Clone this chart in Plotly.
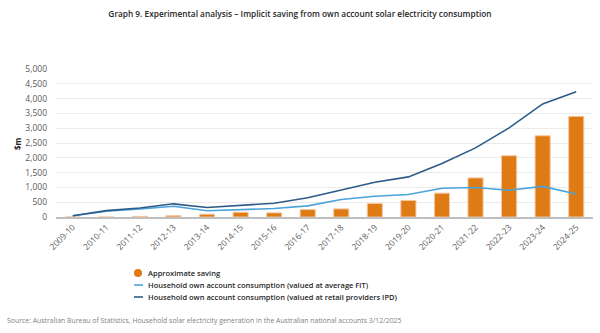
import plotly.graph_objects as go

years = ["2009-10", "2010-11", "2011-12", "2012-13", "2013-14", "2014-15", "2015-16",
         "2016-17", "2017-18", "2018-19", "2019-20", "2020-21", "2021-22", "2022-23",
         "2023-24", "2024-25"]
saving = [0, 0, 22, 45, 95, 160, 140, 250, 275, 455, 560, 805, 1320, 2070, 2745, 3400]
fit_value = [45, 195, 270, 365, 210, 240, 285, 375, 590, 700, 760, 970, 995, 905, 1035, 780]
ipd_value = [45, 215, 305, 445, 320, 400, 465, 650, 925, 1175, 1355, 1805, 2335, 3010, 3820, 4230]
y_ticks = [0, 500, 1000, 1500, 2000, 2500, 3000, 3500, 4000, 4500, 5000]

names = ["Approximate saving",
         "Household own account consumption (valued at average FiT)",
         "Household own account consumption (valued at retail providers IPD)"]
ORANGE = "#DF7B15"
LIGHT = "#4AA3DB"
DARK = "#2D5B88"
FONT = "Open Sans"

W, H = 600, 333
L, R, T, B = 56, 7, 69, 116
pw, ph = W - L - R, H - T - B


def px_x(p):
    return (p - L) / pw


def px_y(p):
    return (H - B - p) / ph


fig = go.Figure()
fig.add_trace(go.Bar(x=years, y=saving, name=names[0], marker=dict(color=ORANGE, line=dict(color="#F6C7A0", width=1)),
                     showlegend=False))
fig.add_trace(go.Scatter(x=years, y=fit_value, name=names[1], mode="lines",
                         line=dict(color=LIGHT, width=1.6), showlegend=False))
fig.add_trace(go.Scatter(x=years, y=ipd_value, name=names[2], mode="lines",
                         line=dict(color=DARK, width=1.6), showlegend=False))

annotations = []
shapes = []
# legend (drawn manually for compact Excel-style layout)
rows = [273, 285, 297]
for i, (nm, yy) in enumerate(zip(names, rows)):
    annotations.append(dict(text=nm, xref="paper", yref="paper", x=px_x(146), y=px_y(yy),
                            xanchor="left", yanchor="middle", showarrow=False,
                            font=dict(family=FONT, size=7.5, weight=600, color="#262626")))
    if i == 0:
        shapes.append(dict(type="circle", xref="paper", yref="paper", x0=px_x(134), x1=px_x(142),
                           y0=px_y(yy - 4), y1=px_y(yy + 4), fillcolor=ORANGE, line=dict(width=0)))
    else:
        shapes.append(dict(type="line", xref="paper", yref="paper", x0=px_x(134), x1=px_x(143),
                           y0=px_y(yy), y1=px_y(yy), line=dict(color=[LIGHT, DARK][i - 1], width=1.6)))

annotations.append(dict(text="$m", xref="paper", yref="paper", x=px_x(17), y=px_y(143),
                        textangle=-90, showarrow=False, xanchor="center", yanchor="middle",
                        font=dict(family=FONT, size=8, weight=700, color="#262626")))
annotations.append(dict(text="Source: Australian Bureau of Statistics, Household solar electricity generation in the Australian national accounts 3/12/2025",
                        xref="paper", yref="paper", x=px_x(5), y=px_y(320), xanchor="left", yanchor="middle",
                        showarrow=False, font=dict(family=FONT, size=6.9, color="#7f7f7f")))

fig.update_layout(
    width=W, height=H,
    margin=dict(l=L, r=R, t=T, b=B),
    paper_bgcolor="white", plot_bgcolor="white",
    title=dict(text="Graph 9. Experimental analysis – Implicit saving from own account solar electricity consumption",
               x=0.5, xanchor="center", y=1 - 14 / H, yanchor="middle",
               font=dict(family=FONT, size=8.3, weight=600, color="#262626")),
    bargap=0.55,
    showlegend=False,
    annotations=annotations,
    shapes=shapes,
    font=dict(family=FONT),
)
fig.update_xaxes(type="category", tickangle=-45, tickfont=dict(size=8.5, color="#595959", family=FONT),
                 showline=True, linecolor="#BFBFBF", linewidth=2, showgrid=False, ticks="")
fig.update_yaxes(range=[0, 5000], tickvals=y_ticks, tickformat=",", showgrid=True, gridcolor="#EBEBEB",
                 gridwidth=1, zeroline=False, tickfont=dict(size=8.5, color="#595959", family=FONT), ticks="",
                 ticklabelstandoff=8)

fig.write_html("out.html")
